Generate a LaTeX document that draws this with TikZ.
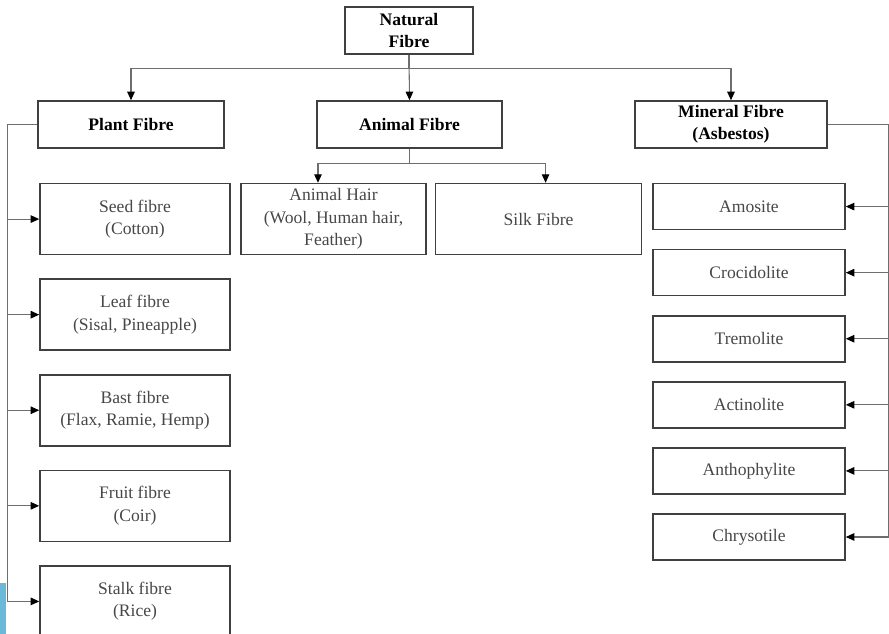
\documentclass[tikz,border=0pt]{standalone}
\usepackage{fontspec}
\setmainfont{Liberation Serif}
\usetikzlibrary{positioning,arrows.meta}
\definecolor{boxgrey}{HTML}{404040}
\definecolor{linegrey}{HTML}{6E6E6E}
\definecolor{textgrey}{HTML}{474747}
\definecolor{slideblue}{HTML}{6BB8D9}

\begin{document}
\begin{tikzpicture}[
    head/.style={draw=boxgrey,line width=0.9pt,font=\fontsize{10}{12.5}\selectfont\bfseries,align=center,minimum height=0.94cm,inner sep=1pt},
    sub/.style={draw=boxgrey,line width=0.9pt,font=\fontsize{10}{12.8}\selectfont,text=textgrey,align=center,inner sep=1pt},
    tall/.style={sub,minimum width=3.8cm,minimum height=1.42cm},
    short/.style={sub,minimum width=3.84cm,minimum height=0.92cm},
    arr/.style={draw=linegrey,line width=0.6pt,-{Triangle[length=1.7mm,width=1.5mm,color=black]}},
    node distance=0.46cm
  ]
      \clip (0,0) rectangle (17.78,-12.68);
      \fill[slideblue] (0,-11.66) rectangle (0.12,-12.68);

      \node [head,minimum width=2.56cm] (nat) at (8.18,-0.61) {Natural\\Fibre};
      \node [head,minimum width=3.72cm] (plant) at (2.62,-2.49) {Plant Fibre};
      \node [head,minimum width=3.7cm] (ani) at (8.19,-2.49) {Animal Fibre};
      \node [head,minimum width=3.84cm] (min) at (14.62,-2.49) {Mineral Fibre\\(Asbestos)};

      \node [tall,below=0.68cm of plant,xshift=0.08cm] (seed) {Seed fibre\\(Cotton)};
      \node [tall,below=of seed] (leaf) {Leaf fibre\\(Sisal, Pineapple)};
      \node [tall,below=of leaf] (bast) {Bast fibre\\(Flax, Ramie, Hemp)};
      \node [tall,below=of bast] (fruit) {Fruit fibre\\(Coir)};
      \node [tall,below=of fruit] (stalk) {Stalk fibre\\(Rice)};

      \node [tall,minimum width=3.7cm,below=0.68cm of ani,xshift=-1.52cm] (hair) {Animal Hair\\(Wool, Human hair,\\Feather)};
      \node [tall,minimum width=4.12cm,right=0.16cm of hair] (silk) {Silk Fibre};

      \node [short,below=0.68cm of min,xshift=0.36cm] (amo) {Amosite};
      \node [short,below=0.37cm of amo] (cro) {Crocidolite};
      \node [short,below=0.37cm of cro] (tre) {Tremolite};
      \node [short,below=0.37cm of tre] (act) {Actinolite};
      \node [short,below=0.37cm of act] (ant) {Anthophylite};
      \node [short,below=0.37cm of ant] (chr) {Chrysotile};

      \draw[arr] (nat.south) -- ++(0,-0.28) -| (plant.north);
      \draw[arr] (nat.south) -- (ani.north);
      \draw[arr] (nat.south) -- ++(0,-0.28) -| (min.north);

      \draw[arr] (ani.south) -- ++(0,-0.3) -| ([xshift=-0.31cm]hair.north);
      \draw[arr] (ani.south) -- ++(0,-0.3) -| ([xshift=0.14cm]silk.north);

      \draw[arr] (plant.west) -- ++(-0.6,0) |- (seed.west);
      \draw[arr] (plant.west) -- ++(-0.6,0) |- (leaf.west);
      \draw[arr] (plant.west) -- ++(-0.6,0) |- (bast.west);
      \draw[arr] (plant.west) -- ++(-0.6,0) |- (fruit.west);
      \draw[arr] (plant.west) -- ++(-0.6,0) |- (stalk.west);

      \draw[arr] (min.east) -- ++(1.22,0) |- (amo.east);
      \draw[arr] (min.east) -- ++(1.22,0) |- (cro.east);
      \draw[arr] (min.east) -- ++(1.22,0) |- (tre.east);
      \draw[arr] (min.east) -- ++(1.22,0) |- (act.east);
      \draw[arr] (min.east) -- ++(1.22,0) |- (ant.east);
      \draw[arr] (min.east) -- ++(1.22,0) |- (chr.east);
\end{tikzpicture}
\end{document}
